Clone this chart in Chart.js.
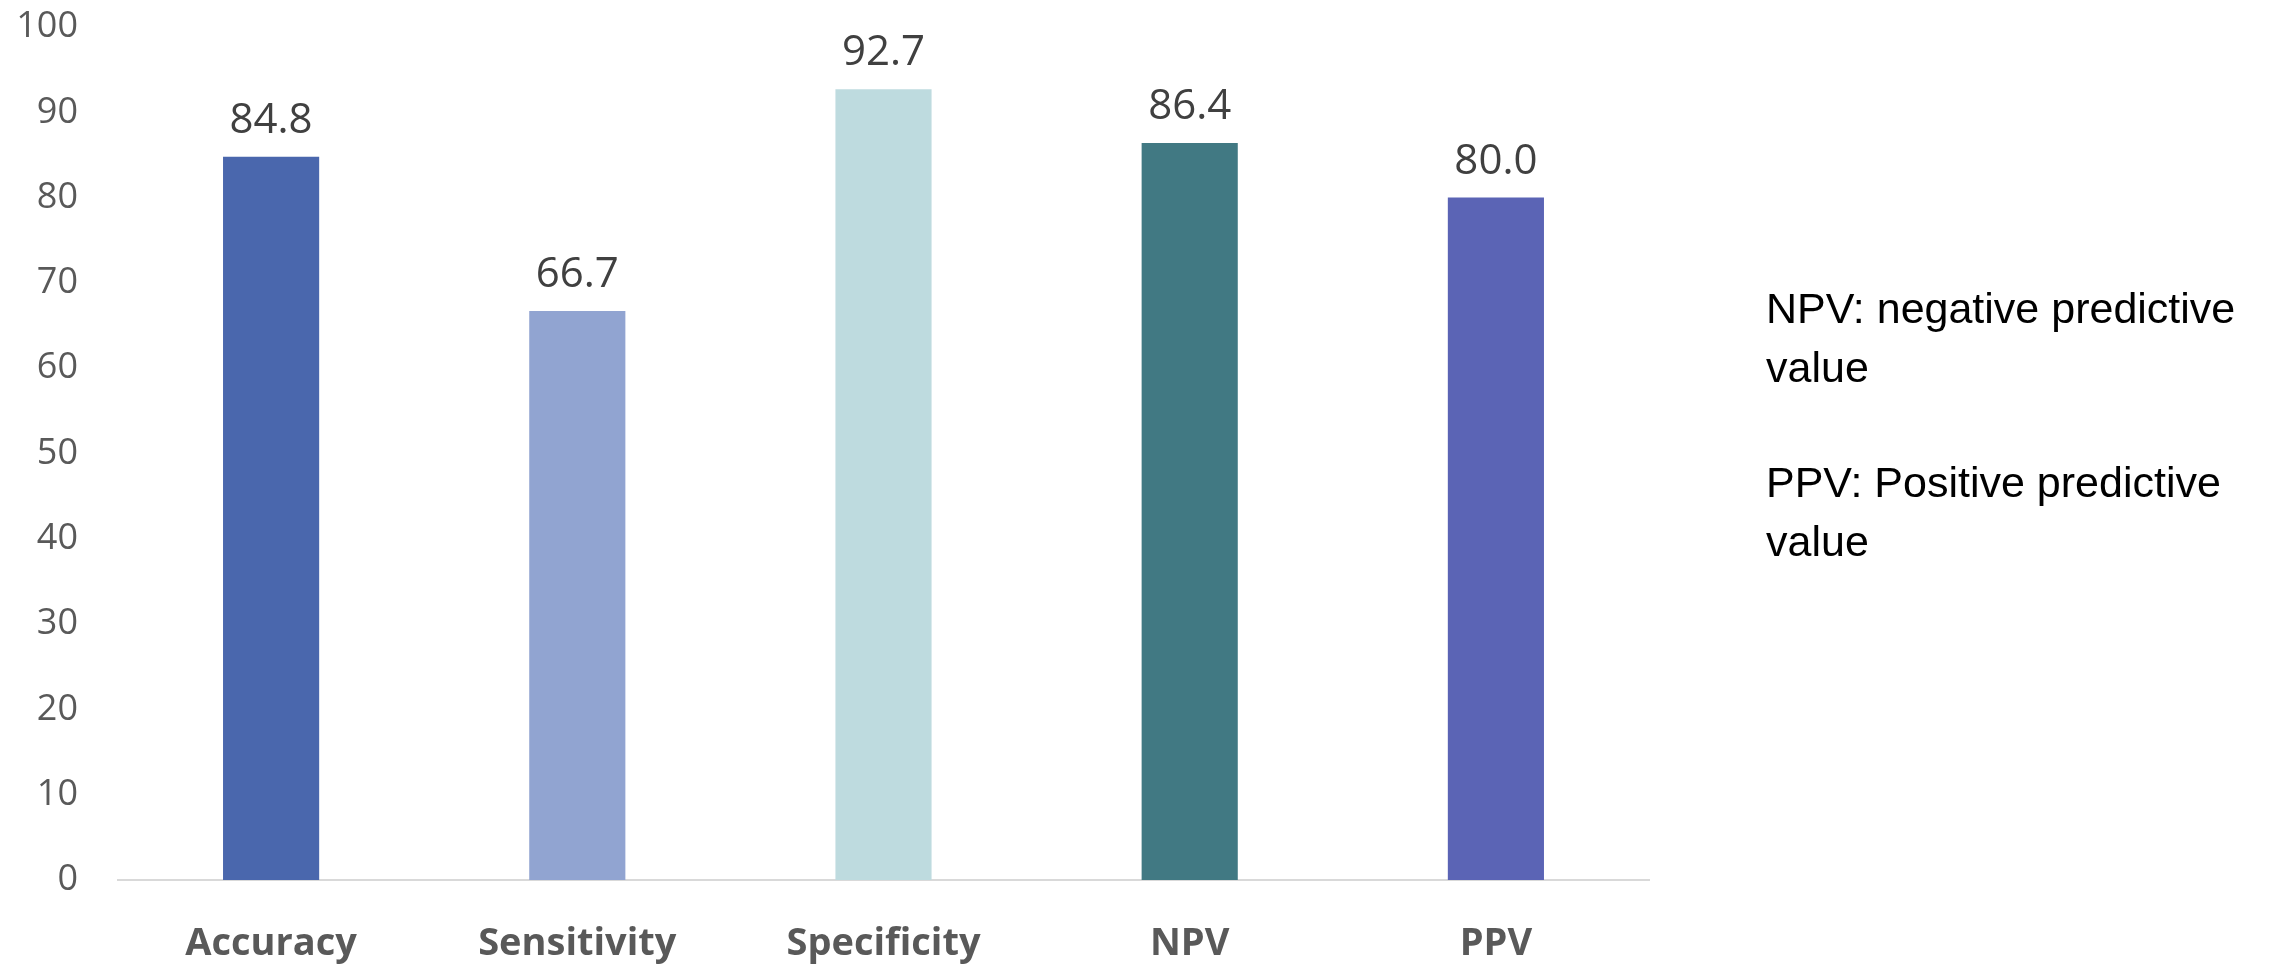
<!DOCTYPE html>
<html>
<head>
<meta charset="utf-8">
<script src="https://cdn.jsdelivr.net/npm/chart.js"></script>
<style>
  html, body { margin: 0; padding: 0; background: #ffffff; }
  #wrap { position: relative; width: 2280px; height: 966px; }
</style>
</head>
<body>
<div id="wrap"><canvas id="metricsChart" width="2280" height="966"></canvas></div>
<script>
// --- data ---
const categories = ['Accuracy', 'Sensitivity', 'Specificity', 'NPV', 'PPV'];
const values = [84.8, 66.7, 92.7, 86.4, 80.0];
const barColors = ['#4A67AD', '#91A4D1', '#BEDBDF', '#417983', '#5B64B5'];
const yTicks = [0, 10, 20, 30, 40, 50, 60, 70, 80, 90, 100];
const notes = [
    ['NPV: negative predictive', 'value'],
    ['PPV: Positive predictive', 'value']
];

const baseFont = "'Open Sans', 'Noto Sans', sans-serif";
const noteFont = "'Liberation Sans', Arial, sans-serif";

// value labels above the bars
const valueLabels = {
    id: 'valueLabels',
    afterDatasetsDraw(chart) {
        const ctx = chart.ctx;
        const meta = chart.getDatasetMeta(0);
        ctx.save();
        ctx.font = '42px ' + baseFont;
        ctx.fillStyle = '#404040';
        ctx.textAlign = 'center';
        ctx.textBaseline = 'alphabetic';
        meta.data.forEach((bar, i) => {
            ctx.fillText(values[i].toFixed(1), bar.x, bar.y - 24);
        });
        ctx.restore();
    }
};

// side notes on the right
const sideNotes = {
    id: 'sideNotes',
    afterDraw(chart) {
        const ctx = chart.ctx;
        ctx.save();
        ctx.font = '43px ' + noteFont;
        ctx.fillStyle = '#000000';
        ctx.textAlign = 'left';
        ctx.textBaseline = 'alphabetic';
        const left = 1766;
        let y = 323;
        notes.forEach(block => {
            block.forEach(line => {
                ctx.fillText(line, left, y);
                y += 59;
            });
            y += 56;
        });
        ctx.restore();
    }
};

new Chart(document.getElementById('metricsChart').getContext('2d'), {
    type: 'bar',
    data: {
        labels: categories,
        datasets: [{
            data: values,
            backgroundColor: barColors,
            borderWidth: 0,
            categoryPercentage: 1,
            barPercentage: 0.314
        }]
    },
    options: {
        responsive: false,
        animation: false,
        layout: { padding: { top: 27, right: 631, bottom: 0, left: 0 } },
        plugins: { legend: { display: false }, tooltip: { enabled: false } },
        scales: {
            x: {
                grid: { display: false, drawTicks: false },
                border: { display: true, color: '#D9D9D9', width: 2 },
                ticks: { color: '#595959', font: { family: baseFont, size: 38, weight: 'bold' }, padding: 41 },
                afterFit(scale) { scale.height = 86; }
            },
            y: {
                min: 0,
                max: 100,
                afterBuildTicks(scale) { scale.ticks = yTicks.map(v => ({ value: v })); },
                grid: { display: false, drawTicks: false },
                border: { display: false },
                ticks: { color: '#595959', font: { family: baseFont, size: 36 }, padding: 40 },
                afterFit(scale) {
                    scale.width = 118;
                    scale.paddingTop = 0;
                    scale.paddingBottom = 0;
                }
            }
        }
    },
    plugins: [valueLabels, sideNotes]
});
</script>
</body>
</html>
